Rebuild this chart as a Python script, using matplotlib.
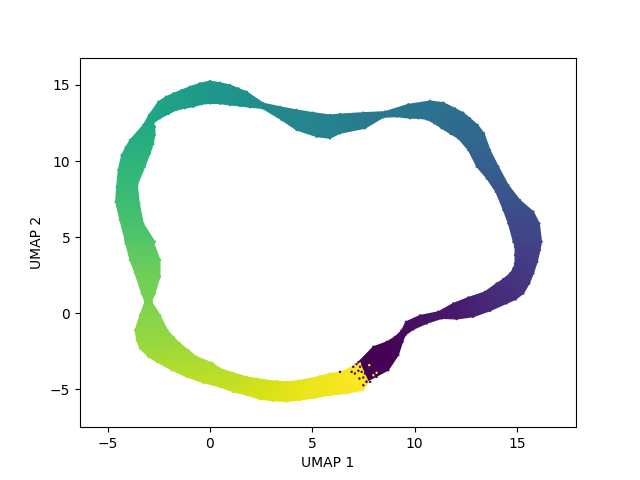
import numpy as np
import matplotlib
matplotlib.use("Agg")
import matplotlib.pyplot as plt

# outer and inner edge of the ring, purple end first
outer_x = [7.65, 8.71, 9.20, 9.41, 9.54, 9.93, 10.58, 11.32, 12.05, 12.86, 13.68, 14.49, 14.93, 15.31, 15.60, 15.80, 15.99, 16.12,
           16.20, 16.09, 15.80, 15.14, 14.57, 14.09, 13.68, 13.39, 13.08, 12.70, 12.37, 11.97, 11.40, 10.75, 9.69, 8.55, 7.49, 6.35,
           5.86, 5.05, 4.23, 3.42, 2.61, 1.79, 1.38, 0.98, 0.49, 0.00, -0.49, -0.98, -1.38, -1.79, -2.15, -2.52, -2.98, -3.26, -3.91, -4.12, -4.32,
           -4.48, -4.56, -4.61, -4.40, -4.15, -4.12, -3.91, -3.66, -3.34, -3.18, -3.42, -3.66, -3.58, -3.42, -3.01, -2.60, -1.87,
           -1.14, -0.32, 0.49, 1.14, 1.79, 2.44, 3.09, 3.75, 4.40, 5.13, 5.86, 6.68, 7.49, 7.73]
outer_y = [-4.50, -3.75, -2.76, -1.89, -1.45, -1.07, -0.68, -0.35, -0.39, -0.24, 0.15, 0.64, 0.90, 1.29, 1.95, 2.61, 3.38, 4.15,
           4.69, 5.90, 6.67, 7.43, 8.42, 9.63, 10.72, 11.82, 12.37, 12.81, 13.18, 13.46, 13.84, 13.95, 13.73, 13.25, 13.18, 13.09,
           13.03, 13.18, 13.36, 13.57, 13.80, 14.56, 14.78, 15.00, 15.15, 15.26, 15.11, 14.89, 14.67, 14.45, 14.23, 13.90, 13.03, 12.37, 11.38, 10.90, 10.39,
           9.41, 8.31, 7.32, 6.12, 4.80, 4.58, 3.49, 2.61, 1.29, 0.75, -0.13, -1.12, -1.78, -2.32, -2.87, -3.20, -3.75,
           -4.19, -4.58, -4.85, -5.18, -5.39, -5.66, -5.77, -5.81, -5.72, -5.57, -5.39, -5.28, -5.06, -4.52]
inner_x = [7.25, 7.98, 8.63, 9.04, 9.35, 9.57, 10.26, 11.15, 11.89, 12.62, 13.43, 14.00, 14.33, 14.66, 14.82, 14.90, 14.90, 14.90,
           14.82, 14.57, 14.33, 13.96, 13.52, 13.03, 12.62, 12.13, 11.76, 11.32, 10.96, 10.58, 10.18, 9.77, 9.12, 8.47, 7.57, 6.35,
           5.86, 5.21, 4.23, 3.50, 2.57, 1.95, 1.47, 0.98, 0.49, 0.00, -0.41, -0.81, -1.22, -1.63, -2.03, -2.44, -2.77, -2.69, -2.69, -2.77, -2.93,
           -3.18, -3.55, -3.45, -3.26, -2.69, -2.74, -2.44, -2.44, -2.69, -2.85, -2.44, -2.08, -1.79, -1.47, -1.06, -0.65, 0.12,
           0.49, 1.14, 1.79, 2.28, 2.77, 3.26, 3.75, 4.32, 4.89, 5.37, 5.86, 6.43, 7.08, 7.33]
inner_y = [-3.22, -2.21, -1.89, -1.56, -1.16, -0.57, -0.15, 0.09, 0.64, 1.03, 1.40, 1.95, 2.24, 2.61, 2.94, 3.27, 3.82, 4.36,
           4.69, 5.90, 6.78, 7.98, 8.86, 9.63, 10.72, 11.49, 11.78, 12.15, 12.48, 12.74, 12.81, 12.81, 12.92, 12.87, 12.15, 11.82,
           11.49, 11.60, 12.04, 12.70, 13.46, 13.53, 13.62, 13.68, 13.77, 13.79, 13.73, 13.57, 13.47, 13.36, 13.09, 12.81, 12.48, 12.26, 11.71, 11.12, 10.50,
           9.63, 8.42, 7.22, 5.90, 4.69, 4.58, 3.49, 2.39, 1.29, 0.75, -0.13, -1.12, -1.56, -1.99, -2.43, -2.87, -3.27,
           -3.64, -3.93, -4.19, -4.30, -4.41, -4.47, -4.52, -4.43, -4.30, -4.14, -3.97, -3.86, -3.42, -3.31]
# colour value at each cross-section
order = [0.00, 0.00, 0.01, 0.02, 0.03, 0.04, 0.05, 0.06, 0.07, 0.09, 0.11, 0.13, 0.14, 0.15, 0.16, 0.17, 0.18, 0.19,
         0.20, 0.22, 0.24, 0.26, 0.28, 0.30, 0.32, 0.34, 0.345, 0.35, 0.36, 0.37, 0.375, 0.38, 0.39, 0.40, 0.41, 0.43,
         0.44, 0.45, 0.46, 0.47, 0.48, 0.50, 0.51, 0.52, 0.525, 0.53, 0.54, 0.55, 0.555, 0.56, 0.57, 0.58, 0.59, 0.60, 0.62, 0.63, 0.64,
         0.66, 0.67, 0.69, 0.71, 0.73, 0.74, 0.76, 0.78, 0.79, 0.80, 0.82, 0.83, 0.84, 0.85, 0.86, 0.87, 0.88,
         0.89, 0.90, 0.91, 0.92, 0.93, 0.94, 0.95, 0.96, 0.97, 0.975, 0.98, 0.99, 1.00, 1.00]

# loose points where the two ends of the ring overlap
purple_x = [7.00, 7.16, 7.33, 7.41, 7.25, 7.57, 7.49, 7.73, 7.65, 7.49, 7.78, 7.08, 6.92, 7.82, 8.06, 8.14, 6.35, 7.30, 7.57]
purple_y = [-3.53, -3.35, -3.53, -3.86, -3.79, -3.97, -4.23, -4.19, -4.52, -4.74, -3.86, -3.97, -3.86, -4.52, -3.97, -4.19, -3.86, -4.30, -3.64]
yellow_x = [7.78, 8.14, 7.98]
yellow_y = [-3.42, -3.92, -4.08]

outer_x, outer_y = np.array(outer_x), np.array(outer_y)
inner_x, inner_y = np.array(inner_x), np.array(inner_y)
order = np.array(order)

fig, ax = plt.subplots()

# ribbon body between the two edges
X = np.vstack([outer_x, inner_x])
Y = np.vstack([outer_y, inner_y])
C = np.vstack([order, order])
ax.pcolormesh(X, Y, C, cmap="viridis", vmin=0, vmax=1, shading="gouraud")

# rough up the edges and add the stray points
ax.scatter(outer_x, outer_y, c=order, cmap="viridis", vmin=0, vmax=1, s=3, linewidths=0)
ax.scatter(inner_x, inner_y, c=order, cmap="viridis", vmin=0, vmax=1, s=3, linewidths=0)
ax.scatter(purple_x, purple_y, c=[0.0] * len(purple_x), cmap="viridis", vmin=0, vmax=1, s=3, linewidths=0)
ax.scatter(yellow_x, yellow_y, c=[1.0] * len(yellow_x), cmap="viridis", vmin=0, vmax=1, s=3, linewidths=0)

ax.set_xlim(-6.35, 17.88)
ax.set_ylim(-7.5, 16.8)
ax.set_xlabel("UMAP 1")
ax.set_ylabel("UMAP 2")

fig.savefig("out.png", dpi=100)
